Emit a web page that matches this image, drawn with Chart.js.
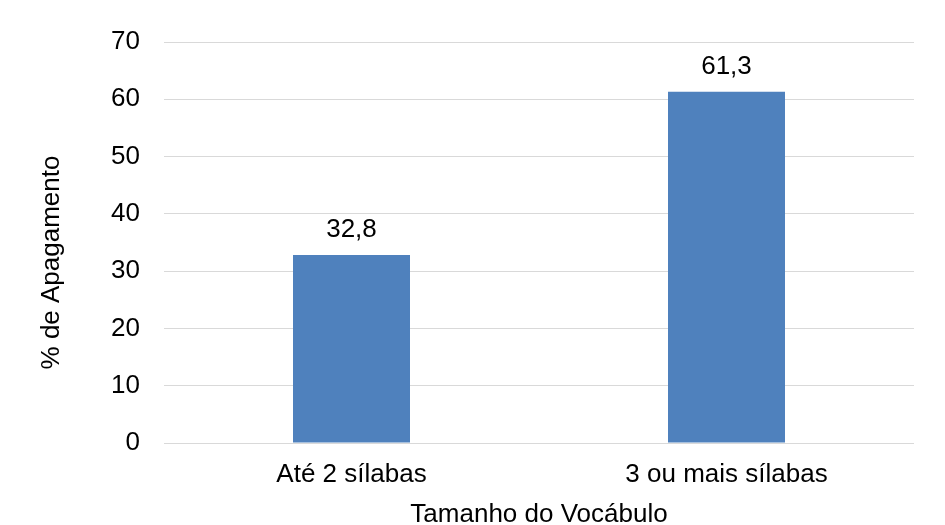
<!DOCTYPE html>
<html>
<head>
<meta charset="utf-8">
<script src="https://cdn.jsdelivr.net/npm/chart.js@4.4.1/dist/chart.umd.min.js"></script>
<style>
  html, body { margin: 0; padding: 0; background: #fff; }
  #wrap { width: 945px; height: 525px; }
</style>
</head>
<body>
<div id="wrap"><canvas id="c" width="945" height="525"></canvas></div>
<script>
// Categories and values
const categories = ['Até 2 sílabas', '3 ou mais sílabas'];
const apagamento = [32.8, 61.3];
const yTicks = [0, 10, 20, 30, 40, 50, 60, 70];
const xTitle = 'Tamanho do Vocábulo';
const yTitle = '% de Apagamento';

const FONT = 'Liberation Sans, Arial, sans-serif';
const TEXT = '#000000';

// Prints each bar's value above it, with a decimal comma
const valueLabels = {
  id: 'valueLabels',
  afterDatasetsDraw(chart) {
    const ctx = chart.ctx;
    const meta = chart.getDatasetMeta(0);
    ctx.save();
    ctx.font = '26px ' + FONT;
    ctx.fillStyle = TEXT;
    ctx.textAlign = 'center';
    ctx.textBaseline = 'alphabetic';
    meta.data.forEach((bar, i) => {
      const txt = apagamento[i].toFixed(1).replace('.', ',');
      ctx.fillText(txt, bar.x, bar.y - 18);
    });
    ctx.restore();
  }
};

// Vertical axis title, centred on the full canvas height
const yAxisTitle = {
  id: 'yAxisTitle',
  afterDraw(chart) {
    const ctx = chart.ctx;
    ctx.save();
    ctx.font = '26px ' + FONT;
    ctx.fillStyle = TEXT;
    ctx.textAlign = 'center';
    ctx.textBaseline = 'middle';
    ctx.translate(52, chart.height / 2);
    ctx.rotate(-Math.PI / 2);
    ctx.fillText(yTitle, 0, 0);
    ctx.restore();
  }
};

new Chart(document.getElementById('c'), {
  type: 'bar',
  data: {
    labels: categories,
    datasets: [{
      data: apagamento,
      backgroundColor: '#4F81BD',
      borderWidth: 0,
      categoryPercentage: 1,
      barPercentage: 0.312
    }]
  },
  options: {
    responsive: false,
    animation: false,
    devicePixelRatio: 1,
    layout: { padding: { left: 0, right: 31, top: 42, bottom: 0 } },
    plugins: {
      legend: { display: false },
      tooltip: { enabled: false }
    },
    scales: {
      x: {
        grid: { display: false, drawTicks: false },
        border: { display: false },
        ticks: {
          color: TEXT,
          font: { family: FONT, size: 26 },
          padding: 16,
          maxRotation: 0
        },
        title: {
          display: true,
          text: xTitle,
          color: TEXT,
          font: { family: FONT, size: 26 },
          padding: { top: 0, bottom: -5 }
        },
        afterFit(scale) { scale.height = 82; }
      },
      y: {
        min: 0,
        max: 70,
        afterBuildTicks(scale) { scale.ticks = yTicks.map(v => ({ value: v })); },
        grid: { color: '#d9d9d9', lineWidth: 1, drawTicks: false },
        border: { display: false },
        ticks: {
          color: TEXT,
          font: { family: FONT, size: 26 },
          padding: 24
        },
        title: { display: false },
        afterFit(scale) { scale.width = 164; }
      }
    }
  },
  plugins: [valueLabels, yAxisTitle]
});
</script>
</body>
</html>
